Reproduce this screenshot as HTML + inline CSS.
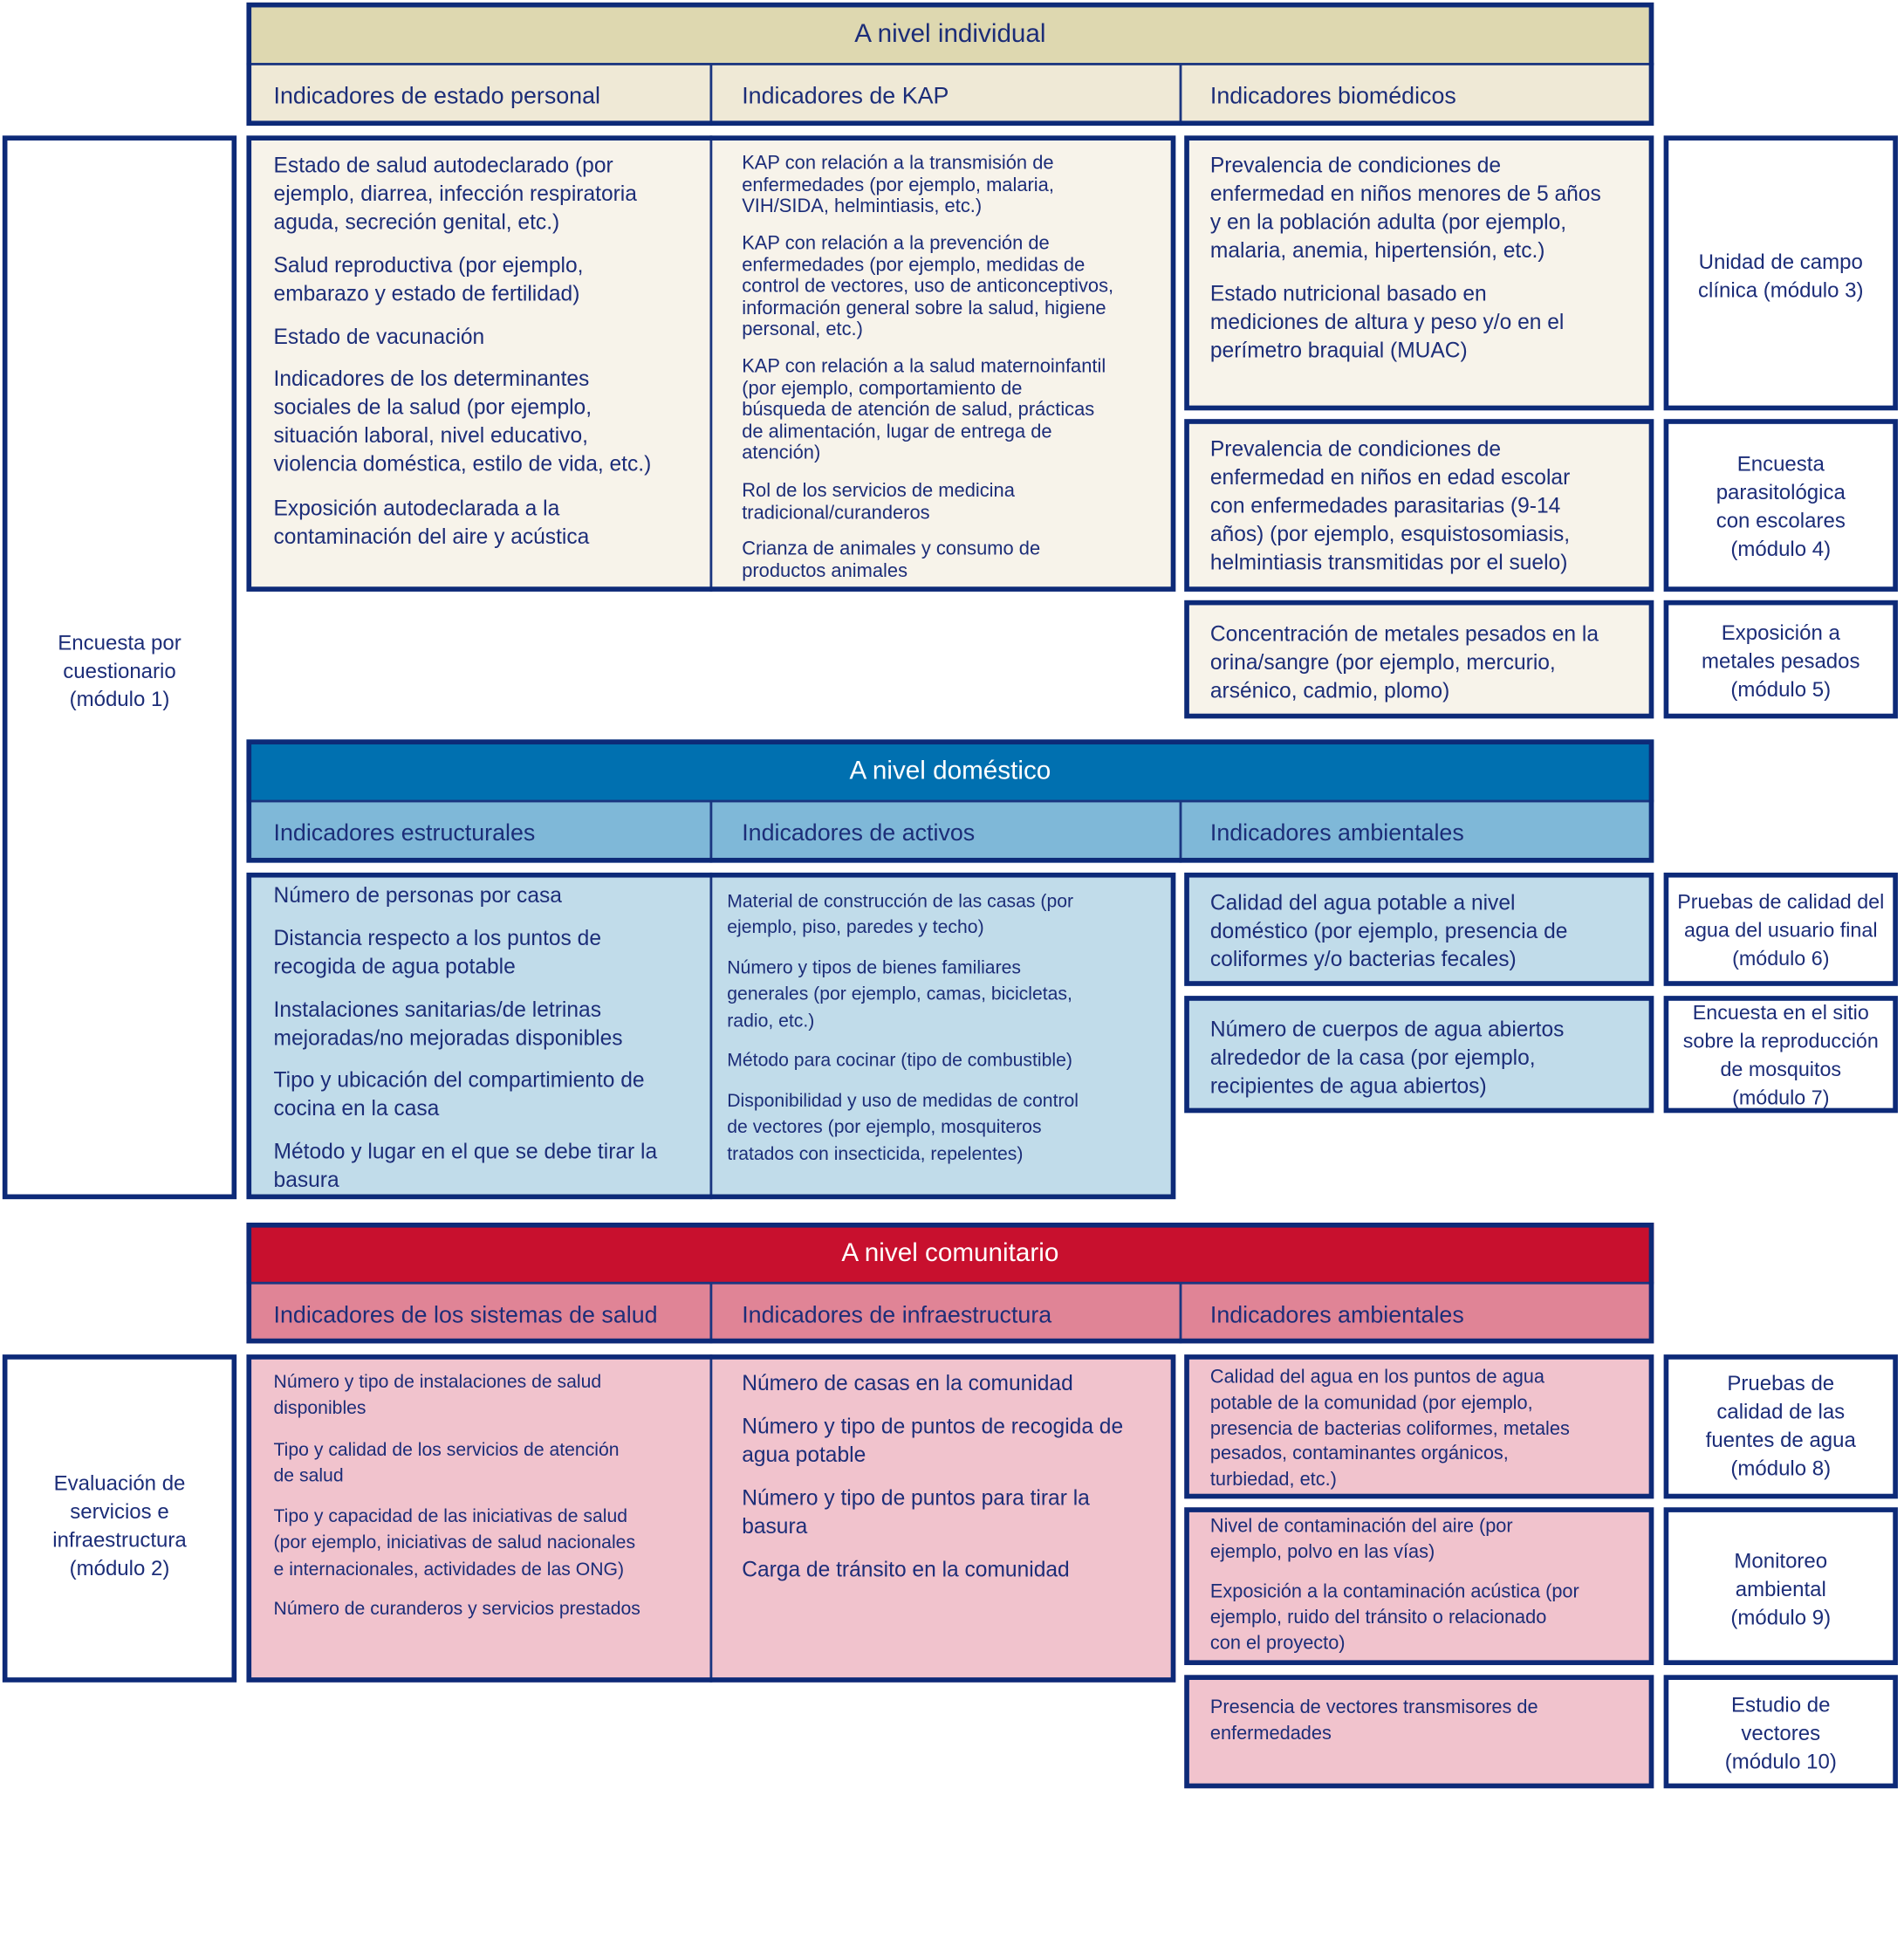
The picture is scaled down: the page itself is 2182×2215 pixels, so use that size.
<!DOCTYPE html>
<html><head><meta charset="utf-8"><style>
html,body{margin:0;padding:0;background:#fff;}
body{width:2182px;height:2215px;overflow:hidden;position:relative;}
#c{position:absolute;left:0;top:0;width:1545px;height:1568px;transform:scale(1.4123);transform-origin:0 0;font-family:"Liberation Sans",sans-serif;color:#1c2d78;}
.b{position:absolute;box-sizing:border-box;border:4px solid #0d2a78;}
.r{position:absolute;}
.v{position:absolute;width:2px;background:#1a3580;}
.t{position:absolute;white-space:nowrap;margin-top:2px;}
.p{position:absolute;white-space:nowrap;font-size:17.4px;line-height:23px;margin-top:2px;}
.s{position:absolute;white-space:nowrap;font-size:15.5px;line-height:17.5px;margin-top:2px;}
.m{position:absolute;white-space:nowrap;font-size:15px;line-height:21.3px;margin-top:2px;}
.ctr{position:absolute;text-align:center;font-size:17px;line-height:23px;white-space:nowrap;margin-top:2px;}
.h{font-size:19px;}
.ti{font-size:21px;text-align:center;width:1142px;left:200px;}
</style></head><body><div id="c">

<!-- INDIVIDUAL -->
<div class="r" style="left:200px;top:2px;width:1142px;height:50px;background:#ded8b0"></div>
<div class="r" style="left:200px;top:52px;width:1142px;height:50px;background:#efe9d6"></div>
<div class="r" style="left:200px;top:51px;width:1142px;height:2px;background:#1a3580"></div>
<div class="v" style="left:576px;top:52px;height:50px"></div>
<div class="v" style="left:957px;top:52px;height:50px"></div>
<div class="b" style="left:200px;top:2px;width:1142px;height:100px"></div>
<div class="t ti" style="top:14px">A nivel individual</div>
<div class="t h" style="left:222px;top:66px">Indicadores de estado personal</div>
<div class="t h" style="left:602px;top:66px">Indicadores de KAP</div>
<div class="t h" style="left:982px;top:66px">Indicadores biomédicos</div>

<div class="b" style="left:2px;top:110px;width:190px;height:863px"></div>
<div class="ctr" style="left:2px;width:190px;top:508px">Encuesta por<br>cuestionario<br>(módulo 1)</div>

<div class="r" style="left:200px;top:110px;width:754px;height:370px;background:#f7f3ea"></div>
<div class="v" style="left:576px;top:110px;height:370px"></div>
<div class="b" style="left:200px;top:110px;width:754px;height:370px"></div>
<div class="p" style="left:222px;top:121px">Estado de salud autodeclarado (por<br>ejemplo, diarrea, infección respiratoria<br>aguda, secreción genital, etc.)</div>
<div class="p" style="left:222px;top:202px">Salud reproductiva (por ejemplo,<br>embarazo y estado de fertilidad)</div>
<div class="p" style="left:222px;top:260px">Estado de vacunación</div>
<div class="p" style="left:222px;top:294px">Indicadores de los determinantes<br>sociales de la salud (por ejemplo,<br>situación laboral, nivel educativo,<br>violencia doméstica, estilo de vida, etc.)</div>
<div class="p" style="left:222px;top:399px">Exposición autodeclarada a la<br>contaminación del aire y acústica</div>
<div class="s" style="left:602px;top:122px">KAP con relación a la transmisión de<br>enfermedades (por ejemplo, malaria,<br>VIH/SIDA, helmintiasis, etc.)</div>
<div class="s" style="left:602px;top:187px">KAP con relación a la prevención de<br>enfermedades (por ejemplo, medidas de<br>control de vectores, uso de anticonceptivos,<br>información general sobre la salud, higiene<br>personal, etc.)</div>
<div class="s" style="left:602px;top:287px">KAP con relación a la salud maternoinfantil<br>(por ejemplo, comportamiento de<br>búsqueda de atención de salud, prácticas<br>de alimentación, lugar de entrega de<br>atención)</div>
<div class="s" style="left:602px;top:388px">Rol de los servicios de medicina<br>tradicional/curanderos</div>
<div class="s" style="left:602px;top:435px">Crianza de animales y consumo de<br>productos animales</div>

<div class="b" style="left:961px;top:110px;width:381px;height:223px;background:#f7f3ea"></div>
<div class="p" style="left:982px;top:121px">Prevalencia de condiciones de<br>enfermedad en niños menores de 5 años<br>y en la población adulta (por ejemplo,<br>malaria, anemia, hipertensión, etc.)</div>
<div class="p" style="left:982px;top:225px">Estado nutricional basado en<br>mediciones de altura y peso y/o en el<br>perímetro braquial (MUAC)</div>
<div class="b" style="left:961px;top:340px;width:381px;height:140px;background:#f7f3ea"></div>
<div class="p" style="left:982px;top:351px">Prevalencia de condiciones de<br>enfermedad en niños en edad escolar<br>con enfermedades parasitarias (9-14<br>años) (por ejemplo, esquistosomiasis,<br>helmintiasis transmitidas por el suelo)</div>
<div class="b" style="left:961px;top:487px;width:381px;height:96px;background:#f7f3ea"></div>
<div class="p" style="left:982px;top:501px">Concentración de metales pesados en la<br>orina/sangre (por ejemplo, mercurio,<br>arsénico, cadmio, plomo)</div>

<div class="b" style="left:1350px;top:110px;width:190px;height:223px"></div>
<div class="ctr" style="left:1350px;width:190px;top:199px">Unidad de campo<br>clínica (módulo 3)</div>
<div class="b" style="left:1350px;top:340px;width:190px;height:140px"></div>
<div class="ctr" style="left:1350px;width:190px;top:363px">Encuesta<br>parasitológica<br>con escolares<br>(módulo 4)</div>
<div class="b" style="left:1350px;top:487px;width:190px;height:96px"></div>
<div class="ctr" style="left:1350px;width:190px;top:500px">Exposición a<br>metales pesados<br>(módulo 5)</div>

<!-- DOMESTICO -->
<div class="r" style="left:200px;top:600px;width:1142px;height:50px;background:#0070b0"></div>
<div class="r" style="left:200px;top:650px;width:1142px;height:50px;background:#7fb8d8"></div>
<div class="r" style="left:200px;top:649px;width:1142px;height:2px;background:#1a3580"></div>
<div class="v" style="left:576px;top:650px;height:50px"></div>
<div class="v" style="left:957px;top:650px;height:50px"></div>
<div class="b" style="left:200px;top:600px;width:1142px;height:100px"></div>
<div class="t ti" style="top:612px;color:#fff">A nivel doméstico</div>
<div class="t h" style="left:222px;top:664px">Indicadores estructurales</div>
<div class="t h" style="left:602px;top:664px">Indicadores de activos</div>
<div class="t h" style="left:982px;top:664px">Indicadores ambientales</div>

<div class="r" style="left:200px;top:708px;width:754px;height:265px;background:#c1dcea"></div>
<div class="v" style="left:576px;top:708px;height:265px"></div>
<div class="b" style="left:200px;top:708px;width:754px;height:265px"></div>
<div class="p" style="left:222px;top:713px">Número de personas por casa</div>
<div class="p" style="left:222px;top:748px">Distancia respecto a los puntos de<br>recogida de agua potable</div>
<div class="p" style="left:222px;top:806px">Instalaciones sanitarias/de letrinas<br>mejoradas/no mejoradas disponibles</div>
<div class="p" style="left:222px;top:863px">Tipo y ubicación del compartimiento de<br>cocina en la casa</div>
<div class="p" style="left:222px;top:921px">Método y lugar en el que se debe tirar la<br>basura</div>
<div class="m" style="left:590px;top:719px">Material de construcción de las casas (por<br>ejemplo, piso, paredes y techo)</div>
<div class="m" style="left:590px;top:773px">Número y tipos de bienes familiares<br>generales (por ejemplo, camas, bicicletas,<br>radio, etc.)</div>
<div class="m" style="left:590px;top:848px">Método para cocinar (tipo de combustible)</div>
<div class="m" style="left:590px;top:881px">Disponibilidad y uso de medidas de control<br>de vectores (por ejemplo, mosquiteros<br>tratados con insecticida, repelentes)</div>

<div class="b" style="left:961px;top:708px;width:381px;height:92px;background:#c1dcea"></div>
<div class="p" style="left:982px;top:719px">Calidad del agua potable a nivel<br>doméstico (por ejemplo, presencia de<br>coliformes y/o bacterias fecales)</div>
<div class="b" style="left:961px;top:808px;width:381px;height:95px;background:#c1dcea"></div>
<div class="p" style="left:982px;top:822px">Número de cuerpos de agua abiertos<br>alrededor de la casa (por ejemplo,<br>recipientes de agua abiertos)</div>

<div class="b" style="left:1350px;top:708px;width:190px;height:92px"></div>
<div class="ctr" style="left:1350px;width:190px;top:719px;font-size:16.5px">Pruebas de calidad del<br>agua del usuario final<br>(módulo 6)</div>
<div class="b" style="left:1350px;top:808px;width:190px;height:95px"></div>
<div class="ctr" style="left:1350px;width:190px;top:809px;font-size:16.5px">Encuesta en el sitio<br>sobre la reproducción<br>de mosquitos<br>(módulo 7)</div>

<!-- COMUNITARIO -->
<div class="r" style="left:200px;top:992px;width:1142px;height:49px;background:#c8102e"></div>
<div class="r" style="left:200px;top:1041px;width:1142px;height:49px;background:#e08496"></div>
<div class="r" style="left:200px;top:1040px;width:1142px;height:2px;background:#1a3580"></div>
<div class="v" style="left:576px;top:1041px;height:49px"></div>
<div class="v" style="left:957px;top:1041px;height:49px"></div>
<div class="b" style="left:200px;top:992px;width:1142px;height:98px"></div>
<div class="t ti" style="top:1003px;color:#fff">A nivel comunitario</div>
<div class="t h" style="left:222px;top:1055px">Indicadores de los sistemas de salud</div>
<div class="t h" style="left:602px;top:1055px">Indicadores de infraestructura</div>
<div class="t h" style="left:982px;top:1055px">Indicadores ambientales</div>

<div class="b" style="left:2px;top:1099px;width:190px;height:266px"></div>
<div class="ctr" style="left:2px;width:190px;top:1190px">Evaluación de<br>servicios e<br>infraestructura<br>(módulo 2)</div>

<div class="r" style="left:200px;top:1099px;width:754px;height:266px;background:#f1c3cd"></div>
<div class="v" style="left:576px;top:1099px;height:266px"></div>
<div class="b" style="left:200px;top:1099px;width:754px;height:266px"></div>
<div class="m" style="left:222px;top:1109px">Número y tipo de instalaciones de salud<br>disponibles</div>
<div class="m" style="left:222px;top:1164px">Tipo y calidad de los servicios de atención<br>de salud</div>
<div class="m" style="left:222px;top:1218px">Tipo y capacidad de las iniciativas de salud<br>(por ejemplo, iniciativas de salud nacionales<br>e internacionales, actividades de las ONG)</div>
<div class="m" style="left:222px;top:1293px">Número de curanderos y servicios prestados</div>
<div class="p" style="left:602px;top:1109px">Número de casas en la comunidad</div>
<div class="p" style="left:602px;top:1144px">Número y tipo de puntos de recogida de<br>agua potable</div>
<div class="p" style="left:602px;top:1202px">Número y tipo de puntos para tirar la<br>basura</div>
<div class="p" style="left:602px;top:1260px">Carga de tránsito en la comunidad</div>

<div class="b" style="left:961px;top:1099px;width:381px;height:117px;background:#f1c3cd"></div>
<div class="m" style="left:982px;top:1106px;font-size:15.4px;line-height:20.8px">Calidad del agua en los puntos de agua<br>potable de la comunidad (por ejemplo,<br>presencia de bacterias coliformes, metales<br>pesados, contaminantes orgánicos,<br>turbiedad, etc.)</div>
<div class="b" style="left:961px;top:1223px;width:381px;height:128px;background:#f1c3cd"></div>
<div class="m" style="left:982px;top:1227px;font-size:15.4px;line-height:20.8px">Nivel de contaminación del aire (por<br>ejemplo, polvo en las vías)</div>
<div class="m" style="left:982px;top:1280px;font-size:15.4px;line-height:20.8px">Exposición a la contaminación acústica (por<br>ejemplo, ruido del tránsito o relacionado<br>con el proyecto)</div>
<div class="b" style="left:961px;top:1359px;width:381px;height:92px;background:#f1c3cd"></div>
<div class="m" style="left:982px;top:1374px;font-size:15.4px;line-height:20.8px">Presencia de vectores transmisores de<br>enfermedades</div>

<div class="b" style="left:1350px;top:1099px;width:190px;height:117px"></div>
<div class="ctr" style="left:1350px;width:190px;top:1109px">Pruebas de<br>calidad de las<br>fuentes de agua<br>(módulo 8)</div>
<div class="b" style="left:1350px;top:1223px;width:190px;height:128px"></div>
<div class="ctr" style="left:1350px;width:190px;top:1253px">Monitoreo<br>ambiental<br>(módulo 9)</div>
<div class="b" style="left:1350px;top:1359px;width:190px;height:92px"></div>
<div class="ctr" style="left:1350px;width:190px;top:1370px">Estudio de<br>vectores<br>(módulo 10)</div>

</div></body></html>
